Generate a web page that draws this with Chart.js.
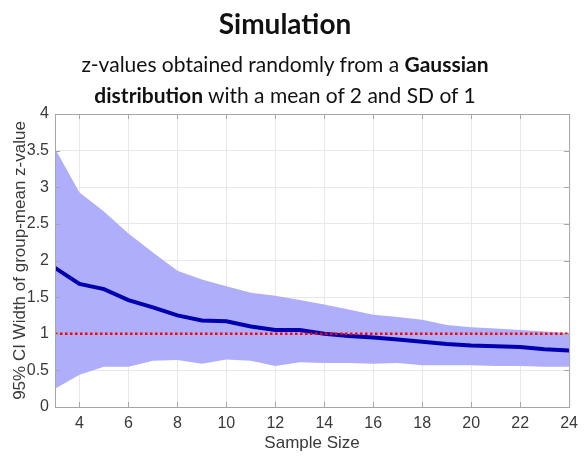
<!DOCTYPE html>
<html>
<head>
<meta charset="utf-8">
<script src="https://cdn.jsdelivr.net/npm/chart.js@4"></script>
<style>
  body { margin: 0; background: #fff; }
  #wrap { position: relative; width: 585px; height: 458px; }
  #head { position: absolute; left: 0; top: 0; width: 570px; text-align: center; font-family: Lato, "Noto Sans", sans-serif; color: #111; }
  #head h1 { margin: 7px 0 0 0; font-size: 28px; font-weight: bold; line-height: 32px; }
  #head p { margin: 9px 0 0 0; font-size: 21px; line-height: 31px; }
</style>
</head>
<body>
<div id="wrap">
  <canvas id="chart" width="585" height="458"></canvas>
  <div id="head">
    <h1>Simulation</h1>
    <p>z-values obtained randomly from a <b>Gaussian</b><br><b>distribution</b> with a mean of 2 and SD of 1</p>
  </div>
</div>
<script>
const sampleSizes = [3, 4, 5, 6, 7, 8, 9, 10, 11, 12, 13, 14, 15, 16, 17, 18, 19, 20, 21, 22, 23, 24];
const meanWidth = [1.90, 1.68, 1.61, 1.46, 1.36, 1.25, 1.18, 1.17, 1.10, 1.05, 1.05, 1.00, 0.97, 0.95, 0.92, 0.89, 0.86, 0.84, 0.83, 0.82, 0.79, 0.77];
const upperWidth = [3.53, 2.93, 2.67, 2.37, 2.11, 1.86, 1.74, 1.65, 1.56, 1.52, 1.46, 1.40, 1.33, 1.26, 1.23, 1.19, 1.12, 1.09, 1.07, 1.05, 1.03, 1.01];
const lowerWidth = [0.25, 0.44, 0.55, 0.55, 0.63, 0.64, 0.59, 0.65, 0.63, 0.56, 0.61, 0.60, 0.60, 0.59, 0.60, 0.57, 0.57, 0.57, 0.56, 0.56, 0.55, 0.55];
const refLevel = 1;
const xTicks = [4, 6, 8, 10, 12, 14, 16, 18, 20, 22, 24];
const yTicks = [0, 0.5, 1, 1.5, 2, 2.5, 3, 3.5, 4];

const pts = arr => sampleSizes.map((n, i) => ({ x: n, y: arr[i] }));

Chart.defaults.font.family = '"Liberation Sans", Arial, sans-serif';
Chart.defaults.color = '#3a3a3a';

// MATLAB style box with inward ticks
const boxPlugin = {
  id: 'box',
  afterDraw(chart) {
    const { ctx, chartArea: a, scales } = chart;
    ctx.save();
    ctx.strokeStyle = '#a6a6a6';
    ctx.lineWidth = 1;
    ctx.strokeRect(a.left + 0.5, a.top + 0.5, a.right - a.left, a.bottom - a.top);
    ctx.beginPath();
    xTicks.forEach(v => {
      const x = Math.round(scales.x.getPixelForValue(v)) + 0.5;
      ctx.moveTo(x, a.bottom); ctx.lineTo(x, a.bottom - 5);
      ctx.moveTo(x, a.top); ctx.lineTo(x, a.top + 5);
    });
    yTicks.forEach(v => {
      const y = Math.round(scales.y.getPixelForValue(v)) + 0.5;
      ctx.moveTo(a.left, y); ctx.lineTo(a.left + 5, y);
      ctx.moveTo(a.right, y); ctx.lineTo(a.right - 5, y);
    });
    ctx.stroke();
    ctx.restore();
  }
};

new Chart(document.getElementById('chart'), {
  type: 'line',
  data: {
    datasets: [
      {
        label: 'reference',
        data: [{ x: sampleSizes[0], y: refLevel }, { x: sampleSizes[sampleSizes.length - 1], y: refLevel }],
        borderColor: '#ff0000',
        borderWidth: 2.5,
        borderDash: [2.5, 2.5],
        pointRadius: 0,
        fill: false
      },
      {
        label: 'mean',
        data: pts(meanWidth),
        borderColor: '#0000b0',
        borderWidth: 4,
        pointRadius: 0,
        fill: false
      },
      {
        label: 'upper',
        data: pts(upperWidth),
        borderWidth: 0,
        borderColor: 'rgba(0,0,0,0)',
        backgroundColor: '#aeaefa',
        pointRadius: 0,
        fill: '+1'
      },
      {
        label: 'lower',
        data: pts(lowerWidth),
        borderWidth: 0,
        borderColor: 'rgba(0,0,0,0)',
        pointRadius: 0,
        fill: false
      }
    ]
  },
  options: {
    responsive: false,
    animation: false,
    layout: { padding: { top: 114, right: 12, left: 0, bottom: 0 } },
    plugins: { legend: { display: false }, tooltip: { enabled: false } },
    scales: {
      x: {
        type: 'linear',
        min: 3,
        max: 24,
        afterBuildTicks: s => { s.ticks = xTicks.map(v => ({ value: v })); },
        afterFit: s => { s.height = 51; },
        ticks: { font: { size: 16 }, padding: 7, maxRotation: 0, callback: v => String(v) },
        grid: { color: '#e8e8e8', drawTicks: false },
        border: { display: false },
        title: { display: true, text: 'Sample Size', font: { size: 17 }, padding: { top: 0 } }
      },
      y: {
        min: 0,
        max: 4,
        afterBuildTicks: s => { s.ticks = yTicks.map(v => ({ value: v })); },
        afterFit: s => { s.width = 55; },
        ticks: { font: { size: 16 }, padding: 6, callback: v => String(v) },
        grid: { color: '#e8e8e8', drawTicks: false },
        border: { display: false },
        title: { display: true, text: '95% CI Width of group-mean z-value', font: { size: 17 }, padding: { top: 10, bottom: 0 } }
      }
    }
  },
  plugins: [boxPlugin]
});
</script>
</body>
</html>
